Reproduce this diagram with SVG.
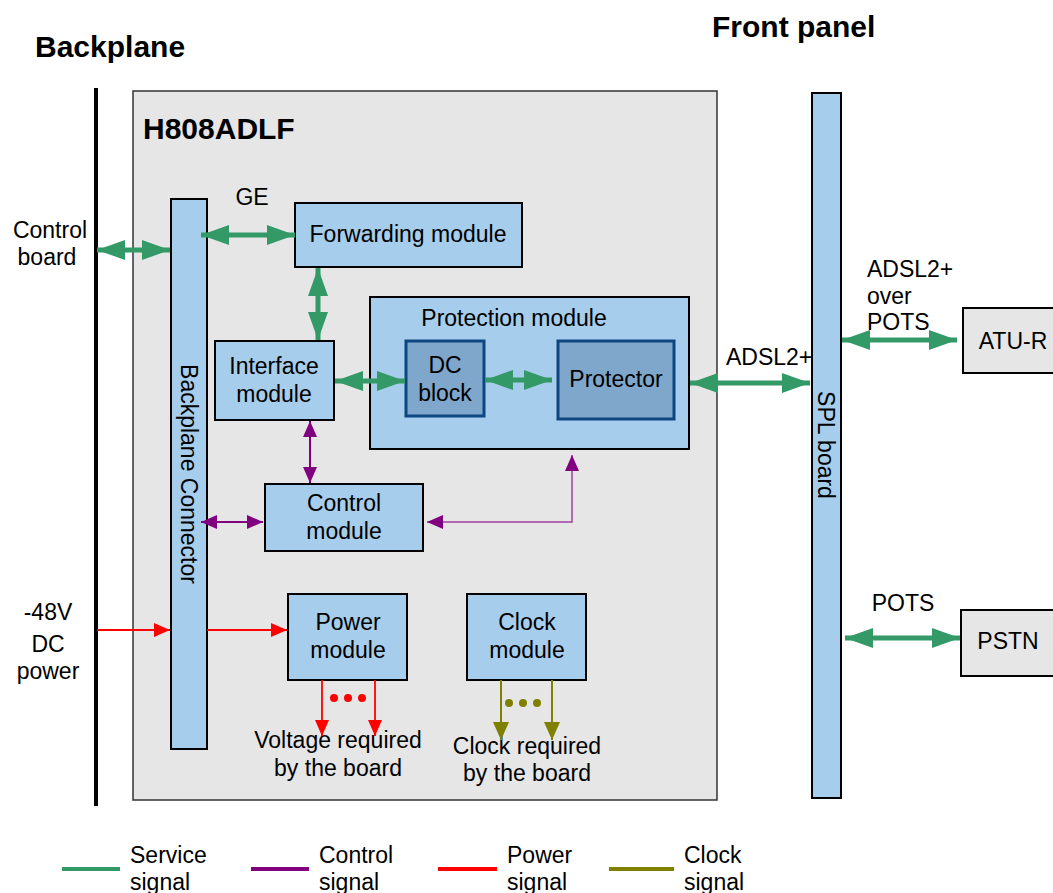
<svg xmlns="http://www.w3.org/2000/svg" width="1053" height="893" viewBox="0 0 1053 893">
<defs>
<style>
text{font-family:"Liberation Sans",Arial,sans-serif;font-size:23px;fill:#000}
.t{text-anchor:middle}
.b{font-weight:bold}
.blue{fill:#a6cdeb;stroke:#000;stroke-width:2}
.dark{fill:#7fa7cb;stroke:#0d4680;stroke-width:3}
.gray{fill:#e6e6e6;stroke:#000;stroke-width:2}
.g{stroke:#339966;stroke-width:5;fill:none;marker-start:url(#ga);marker-end:url(#ga)}
.p{stroke:#800080;stroke-width:2;fill:none}
.r{stroke:#ff0000;stroke-width:1.8;fill:none;marker-end:url(#ra)}
.o{stroke:#808000;stroke-width:2;fill:none;marker-end:url(#oa)}
</style>
<marker id="ga" markerUnits="userSpaceOnUse" markerWidth="28" markerHeight="20" refX="28" refY="10" orient="auto-start-reverse"><path d="M0,0 L28,10 L0,20 z" fill="#339966"/></marker>
<marker id="pa" markerUnits="userSpaceOnUse" markerWidth="16" markerHeight="14" refX="16" refY="7" orient="auto-start-reverse"><path d="M0,0 L16,7 L0,14 z" fill="#800080"/></marker>
<marker id="ra" markerUnits="userSpaceOnUse" markerWidth="16" markerHeight="14" refX="16" refY="7" orient="auto"><path d="M0,0 L16,7 L0,14 z" fill="#ff0000"/></marker>
<marker id="oa" markerUnits="userSpaceOnUse" markerWidth="18" markerHeight="16" refX="18" refY="8" orient="auto"><path d="M0,0 L18,8 L0,16 z" fill="#808000"/></marker>
</defs>
<rect width="1053" height="893" fill="#fff"/>
<text x="35" y="57" class="b" style="font-size:30px">Backplane</text>
<text x="712" y="37" class="b" style="font-size:30px">Front panel</text>
<line x1="96" y1="88" x2="96" y2="806" stroke="#000" stroke-width="4"/>
<g id="board"><rect x="133" y="91" width="584" height="709" fill="#e6e6e6" stroke="#333" stroke-width="1.5"/>
<text x="143" y="139" class="b" style="font-size:30px">H808ADLF</text></g>
<g id="backplane-connector"><rect x="171" y="199" width="36" height="550" class="blue"/>
<text transform="translate(181,474) rotate(90)" class="t">Backplane Connector</text></g>
<g id="forwarding"><rect x="295" y="203" width="227" height="64" class="blue"/><text x="408" y="242" class="t">Forwarding module</text></g>
<g id="interface"><rect x="215" y="341" width="119" height="79" class="blue"/><text x="274" y="374" class="t">Interface</text><text x="274" y="402" class="t">module</text></g>
<g id="protection"><rect x="370" y="297" width="319" height="152" class="blue"/><text x="514" y="326" class="t">Protection module</text></g>
<g id="dcblock"><rect x="406" y="341" width="78" height="75" class="dark"/><text x="445" y="373" class="t">DC</text><text x="445" y="401" class="t">block</text></g>
<g id="protector"><rect x="558" y="341" width="116" height="78" class="dark"/><text x="616" y="387" class="t">Protector</text></g>
<g id="control"><rect x="265" y="484" width="158" height="67" class="blue"/><text x="344" y="511" class="t">Control</text><text x="344" y="539" class="t">module</text></g>
<g id="power"><rect x="288" y="594" width="119" height="86" class="blue"/><text x="348" y="630" class="t">Power</text><text x="348" y="658" class="t">module</text></g>
<g id="clock"><rect x="467" y="594" width="119" height="86" class="blue"/><text x="527" y="630" class="t">Clock</text><text x="527" y="658" class="t">module</text></g>
<g id="spl"><rect x="812" y="93" width="29" height="705" class="blue"/><text transform="translate(818,445) rotate(90)" class="t">SPL board</text></g>
<g id="atur"><rect x="963" y="308" width="95" height="65" class="gray"/><text x="1013" y="349" class="t">ATU-R</text></g>
<g id="pstn"><rect x="961" y="610" width="97" height="66" class="gray"/><text x="1008" y="649" class="t">PSTN</text></g>
<g id="labels">
<text x="50" y="238" class="t">Control</text><text x="47" y="265" class="t">board</text>
<text x="252" y="205" class="t">GE</text>
<text x="48" y="620" class="t">-48V</text><text x="48" y="652" class="t">DC</text><text x="48" y="679" class="t">power</text>
<text x="338" y="748" class="t">Voltage required</text><text x="338" y="776" class="t">by the board</text>
<text x="527" y="754" class="t">Clock required</text><text x="527" y="781" class="t">by the board</text>
<text x="726" y="365">ADSL2+</text>
<text x="867" y="277">ADSL2+</text><text x="867" y="304">over</text><text x="867" y="330">POTS</text>
<text x="903" y="611" class="t">POTS</text>
</g>
<g id="connectors">
<line x1="97" y1="250" x2="170" y2="250" class="g"/>
<line x1="201" y1="235" x2="295" y2="235" class="g"/>
<line x1="318" y1="268" x2="318" y2="340" class="g"/>
<line x1="335" y1="381" x2="405" y2="381" class="g"/>
<line x1="485" y1="380" x2="552" y2="380" class="g"/>
<line x1="690" y1="383" x2="810" y2="383" class="g"/>
<line x1="842" y1="340" x2="957" y2="340" class="g"/>
<line x1="845" y1="638" x2="960" y2="638" class="g"/>
<line x1="310" y1="421" x2="310" y2="483" class="p" marker-start="url(#pa)" marker-end="url(#pa)"/>
<line x1="201" y1="522" x2="263" y2="522" class="p" marker-start="url(#pa)" marker-end="url(#pa)"/>
<polyline points="427,522 572,522 572,455" fill="none" stroke="#a040a0" stroke-width="1.5" marker-start="url(#pa)" marker-end="url(#pa)"/>
<line x1="97" y1="630" x2="170" y2="630" class="r"/>
<line x1="207" y1="630" x2="287" y2="630" class="r"/>
<line x1="322" y1="680" x2="322" y2="736" class="r"/>
<line x1="375" y1="680" x2="375" y2="736" class="r"/>
<line x1="501" y1="680" x2="501" y2="740" class="o"/>
<line x1="552" y1="680" x2="552" y2="740" class="o"/>
<circle cx="334" cy="698" r="4" fill="#ff0000"/><circle cx="348" cy="698" r="4" fill="#ff0000"/><circle cx="362" cy="698" r="4" fill="#ff0000"/>
<circle cx="509" cy="703" r="4" fill="#808000"/><circle cx="523" cy="703" r="4" fill="#808000"/><circle cx="537" cy="703" r="4" fill="#808000"/>
</g>
<g id="legend">
<line x1="62" y1="869" x2="120" y2="869" stroke="#339966" stroke-width="4"/>
<text x="130" y="863">Service</text><text x="130" y="890">signal</text>
<line x1="251" y1="869" x2="309" y2="869" stroke="#800080" stroke-width="4"/>
<text x="319" y="863">Control</text><text x="319" y="890">signal</text>
<line x1="438" y1="869" x2="497" y2="869" stroke="#ff0000" stroke-width="4"/>
<text x="507" y="863">Power</text><text x="507" y="890">signal</text>
<line x1="609" y1="869" x2="674" y2="869" stroke="#808000" stroke-width="4"/>
<text x="684" y="863">Clock</text><text x="684" y="890">signal</text>
</g>
</svg>
